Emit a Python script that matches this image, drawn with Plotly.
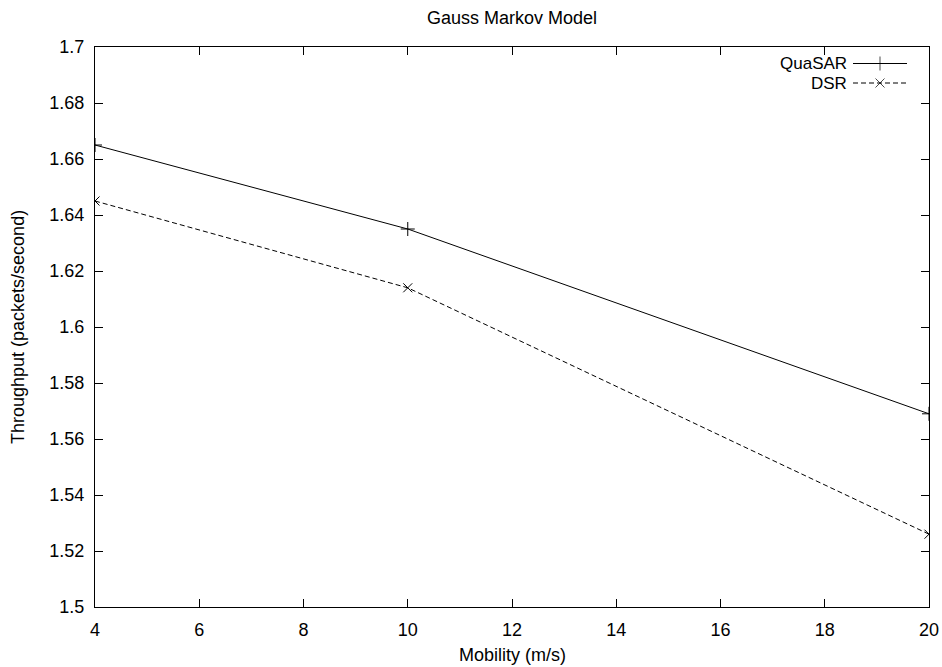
import plotly.graph_objects as go

# ---- data ----
mobility = [4, 10, 20]
quasar = [1.665, 1.635, 1.569]
dsr = [1.645, 1.614, 1.526]
series_names = ["QuaSAR", "DSR"]
x_ticks = [4, 6, 8, 10, 12, 14, 16, 18, 20]
y_ticks = [1.5, 1.52, 1.54, 1.56, 1.58, 1.6, 1.62, 1.64, 1.66, 1.68, 1.7]
y_tick_text = ["1.5", "1.52", "1.54", "1.56", "1.58", "1.6", "1.62", "1.64", "1.66", "1.68", "1.7"]

W, H = 942, 667
L, R, T, B = 95, 13, 47, 60
PW, PH = W - L - R, H - T - B
FONT = dict(family="Liberation Sans, Arial, Helvetica, sans-serif", size=18, color="black")
KEY_FONT = dict(family="Liberation Sans, Arial, Helvetica, sans-serif", size=17, color="black")

fig = go.Figure()
fig.add_trace(go.Scatter(x=mobility, y=quasar, mode="lines+markers", name=series_names[0],
                         line=dict(color="black", width=1),
                         marker=dict(symbol="cross-thin", size=10, line=dict(color="black", width=1)),
                         showlegend=False))
fig.add_trace(go.Scatter(x=mobility, y=dsr, mode="lines+markers", name=series_names[1],
                         line=dict(color="black", width=1, dash="5px,3px"),
                         marker=dict(symbol="x-thin", size=9, line=dict(color="black", width=1)),
                         showlegend=False))

# custom gnuplot-style key (pixel coordinates on an overlay axis)
key_x = [853, 880, 907]
key_rows = [63.5, 83.0]
for i, (nm, dash, sym) in enumerate(zip(series_names, ["solid", "5px,3px"], ["cross-thin", "x-thin"])):
    fig.add_trace(go.Scatter(x=key_x, y=[key_rows[i]] * 3, mode="lines+markers",
                             xaxis="x2", yaxis="y2", showlegend=False, hoverinfo="skip",
                             line=dict(color="black", width=1, dash=dash),
                             marker=dict(symbol=sym, size=[0, 10 if i == 0 else 9, 0],
                                         line=dict(color="black", width=1))))
    fig.add_annotation(x=848, y=key_rows[i], xref="x2", yref="y2", text=nm, showarrow=False,
                       xanchor="right", yanchor="middle", borderpad=0, font=KEY_FONT)

# axis titles placed like gnuplot's
fig.add_annotation(x=0.5, y=(H - B - 655) / PH, xref="paper", yref="paper",
                   text="Mobility (m/s)", showarrow=False, xanchor="center", yanchor="middle", font=FONT)
fig.add_annotation(x=(18 - L) / PW, y=0.5, xref="paper", yref="paper", textangle=-90,
                   text="Throughput (packets/second)", showarrow=False,
                   xanchor="center", yanchor="middle", font=FONT)

axis_common = dict(showline=True, linecolor="black", linewidth=1, mirror="allticks",
                   ticks="inside", ticklen=8, tickwidth=1, tickcolor="black",
                   showgrid=False, zeroline=False, tickfont=FONT, automargin=False)

fig.update_layout(
    width=W, height=H,
    margin=dict(l=L, r=R, t=T, b=B, autoexpand=False),
    plot_bgcolor="white", paper_bgcolor="white",
    title=dict(text="Gauss Markov Model", x=(L + PW / 2) / W, xanchor="center", y=1 - 18 / H,
               yanchor="middle", yref="container", font=FONT, automargin=False),
    xaxis=dict(range=[4, 20], tickvals=x_ticks, ticktext=[str(v) for v in x_ticks],
               ticklabelstandoff=6, **axis_common),
    yaxis=dict(range=[1.5, 1.7], tickvals=y_ticks, ticktext=y_tick_text,
               ticklabelstandoff=6, **axis_common),
    xaxis2=dict(range=[L, W - R], overlaying="x", visible=False, fixedrange=True, automargin=False),
    yaxis2=dict(range=[H - B, T], overlaying="y", visible=False, fixedrange=True, automargin=False),
    showlegend=False,
)

fig.write_html("out.html")
